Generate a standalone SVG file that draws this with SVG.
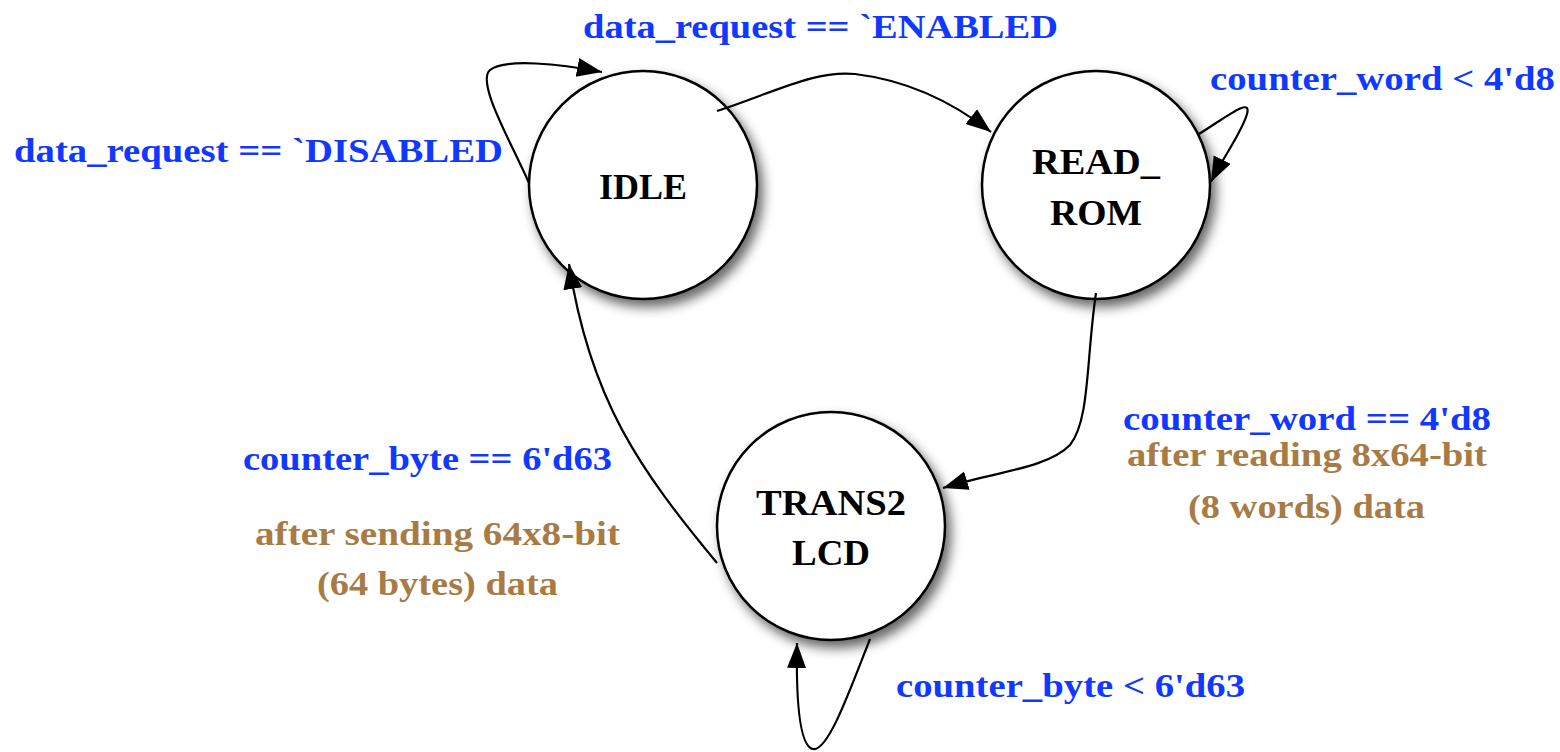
<svg xmlns="http://www.w3.org/2000/svg" width="1560" height="752" viewBox="0 0 1560 752">
  <style>
    text { font-family: "Liberation Serif", "DejaVu Serif", serif; font-weight: bold; }
    .state { fill: #ffffff; stroke: #000000; stroke-width: 2.5; filter: url(#shadow); }
    .name { font-size: 35px; fill: #000000; text-anchor: middle; }
    .cond { font-size: 34px; fill: #1038ff; }
    .note { font-size: 34px; fill: #a87b45; }
    .edge { fill: none; stroke: #000000; stroke-width: 2.2; marker-end: url(#arrow); }
  </style>
  <defs>
    <filter id="shadow" x="-20%" y="-20%" width="150%" height="150%">
      <feDropShadow dx="5" dy="7" stdDeviation="6" flood-color="#000000" flood-opacity="0.6"/>
    </filter>
    <marker id="arrow" markerUnits="userSpaceOnUse" markerWidth="28" markerHeight="22" refX="25" refY="9.5" orient="auto">
      <path d="M0,0 L25,9.5 L0,19 z" fill="#000000"/>
    </marker>
  </defs>

  <rect width="1560" height="752" fill="#ffffff"/>

  <!-- states -->
  <g id="idle">
    <circle class="state" cx="643" cy="185" r="114"/>
    <text class="name" x="643" y="199" textLength="88" lengthAdjust="spacingAndGlyphs">IDLE</text>
  </g>
  <g id="read_rom">
    <circle class="state" cx="1096" cy="185" r="114"/>
    <text class="name" x="1096" y="174" textLength="128" lengthAdjust="spacingAndGlyphs">READ_</text>
    <text class="name" x="1096" y="225" textLength="92" lengthAdjust="spacingAndGlyphs">ROM</text>
  </g>
  <g id="trans2lcd">
    <circle class="state" cx="831" cy="526" r="114"/>
    <text class="name" x="831" y="515" textLength="150" lengthAdjust="spacingAndGlyphs">TRANS2</text>
    <text class="name" x="831" y="565" textLength="78" lengthAdjust="spacingAndGlyphs">LCD</text>
  </g>

  <!-- transitions, drawn over the states -->
  <g id="connectors">
    <path class="edge" d="M529 183 C 510 140, 476 82, 490 70 C 505 58, 560 64, 602 72"/>
    <path class="edge" d="M717 111 C 775 92, 815 70, 855 74 C 905 80, 950 100, 991 132"/>
    <path class="edge" d="M1199 134 C 1225 118, 1252 96, 1247 114 C 1242 132, 1224 156, 1211 182"/>
    <path class="edge" d="M1096 293 C 1086 360, 1090 420, 1070 445 C 1048 468, 995 472, 943 488"/>
    <path class="edge" d="M717 563 C 640 470, 590 400, 569 264"/>
    <path class="edge" d="M870 639 C 850 690, 828 752, 813 749 C 799 746, 796 700, 797 643"/>
  </g>

  <!-- transition labels -->
  <g id="labels">
    <text class="cond" x="583" y="38" textLength="475" lengthAdjust="spacingAndGlyphs">data_request == `ENABLED</text>
    <text class="cond" x="14" y="162" textLength="489" lengthAdjust="spacingAndGlyphs">data_request == `DISABLED</text>
    <text class="cond" x="1210" y="90" textLength="345" lengthAdjust="spacingAndGlyphs">counter_word &lt; 4'd8</text>
    <text class="cond" x="1123" y="430" textLength="368" lengthAdjust="spacingAndGlyphs">counter_word == 4'd8</text>
    <text class="note" x="1127" y="466" textLength="360" lengthAdjust="spacingAndGlyphs">after reading 8x64-bit</text>
    <text class="note" x="1188" y="518" textLength="237" lengthAdjust="spacingAndGlyphs">(8 words) data</text>
    <text class="cond" x="243" y="470" textLength="369" lengthAdjust="spacingAndGlyphs">counter_byte == 6'd63</text>
    <text class="note" x="255" y="545" textLength="365" lengthAdjust="spacingAndGlyphs">after sending 64x8-bit</text>
    <text class="note" x="317" y="595" textLength="241" lengthAdjust="spacingAndGlyphs">(64 bytes) data</text>
    <text class="cond" x="896" y="697" textLength="349" lengthAdjust="spacingAndGlyphs">counter_byte &lt; 6'd63</text>
  </g>
</svg>
